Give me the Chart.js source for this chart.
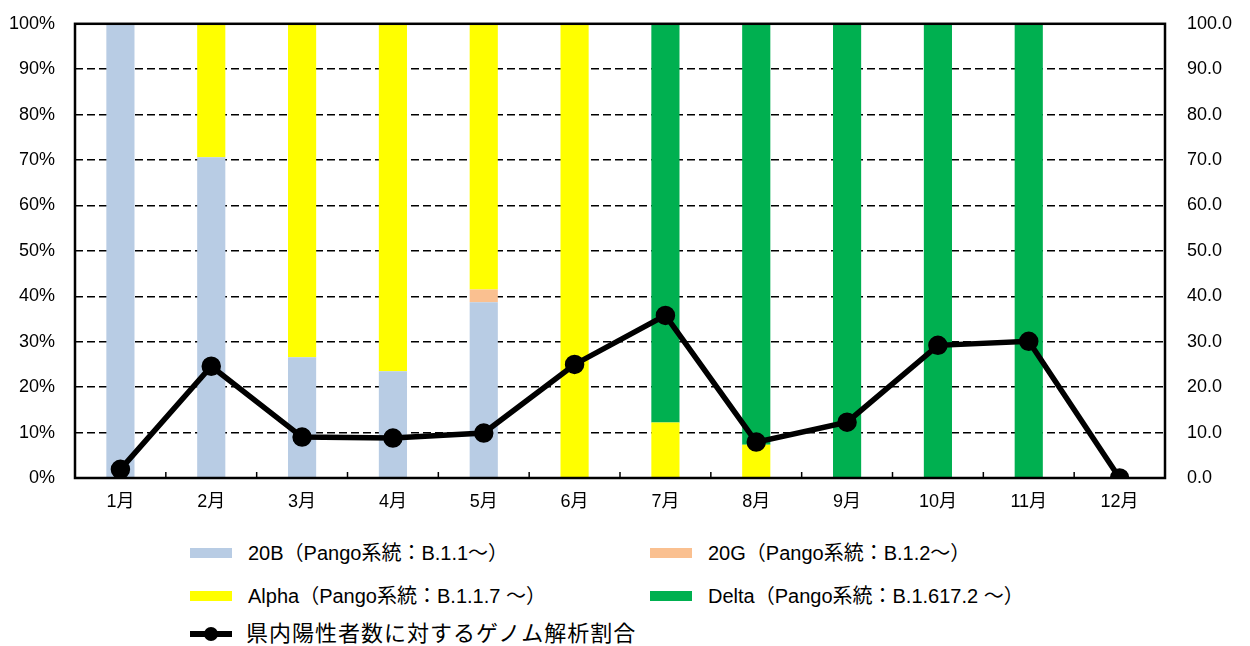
<!DOCTYPE html>
<html>
<head>
<meta charset="utf-8">
<script src="https://cdn.jsdelivr.net/npm/chart.js@4.4.1/dist/chart.umd.min.js"></script>
<style>
  body { margin: 0; background: #fff; width: 1250px; height: 646px; overflow: hidden; position: relative; }
  #wrap { position: absolute; left: 0; top: -9px; width: 1250px; height: 529px; }
  .leg { position: absolute; font-family: 'Liberation Sans', 'Noto Sans CJK JP', sans-serif; font-size: 20px; color: #000; white-space: nowrap; line-height: 24px; }
  .sw { position: absolute; width: 42px; height: 10px; }
  .txt { position: absolute; }
</style>
</head>
<body>
<div id="wrap"><canvas id="chart"></canvas></div>
<div id="legend"></div>
<script>
const months = ['1月','2月','3月','4月','5月','6月','7月','8月','9月','10月','11月','12月'];
const b20 = [100, 70.6, 26.6, 23.5, 38.7, 0, 0, 0, 0, 0, 0, 0];
const g20 = [0, 0, 0, 0, 2.8, 0, 0, 0, 0, 0, 0, 0];
const alpha = [0, 29.4, 73.4, 76.5, 58.5, 100, 12.2, 7.3, 0, 0, 0, 0];
const delta = [0, 0, 0, 0, 0, 0, 87.8, 92.7, 100, 100, 100, 0];
const ratio = [1.9, 24.6, 9.0, 8.8, 9.9, 25.0, 35.8, 7.9, 12.3, 29.2, 30.1, 0];

const seriesNames = [
  '20B（Pango系統：B.1.1～）',
  '20G（Pango系統：B.1.2～）',
  'Alpha（Pango系統：B.1.1.7 ～）',
  'Delta（Pango系統：B.1.617.2 ～）',
  '県内陽性者数に対するゲノム解析割合'
];
const colors = ['#B8CCE4', '#FAC090', '#FFFF00', '#00B050'];

const FONT = "'Liberation Sans', 'Noto Sans CJK JP', sans-serif";

// small inward tick marks on the x axis, between categories
const innerTicks = {
  id: 'innerTicks',
  afterDraw(chart) {
    const x = chart.scales.x, area = chart.chartArea, c = chart.ctx;
    c.save();
    c.strokeStyle = '#000';
    c.lineWidth = 1.5;
    for (let i = 0; i < months.length - 1; i++) {
      const px = (x.getPixelForValue(i) + x.getPixelForValue(i + 1)) / 2;
      c.beginPath();
      c.moveTo(px, area.bottom);
      c.lineTo(px, area.bottom - 6);
      c.stroke();
    }
    c.lineWidth = 2.5;
    c.strokeRect(area.left, area.top, area.right - area.left, area.bottom - area.top);
    c.restore();
  }
};

const barSet = (i, data) => ({
  type: 'bar', label: seriesNames[i], data: data, backgroundColor: colors[i],
  borderWidth: 0, yAxisID: 'y', stack: 's', order: 2,
  barPercentage: 0.31, categoryPercentage: 1
});

new Chart(document.getElementById('chart'), {
  data: {
    labels: months,
    datasets: [
      barSet(0, b20), barSet(1, g20), barSet(2, alpha), barSet(3, delta),
      {
        type: 'line', label: seriesNames[4], data: ratio, yAxisID: 'y2', order: 1,
        borderColor: '#000', backgroundColor: '#000', borderWidth: 5.5,
        pointRadius: 7, pointHoverRadius: 7, pointBackgroundColor: '#000', tension: 0
      }
    ]
  },
  options: {
    responsive: true,
    maintainAspectRatio: false,
    animation: false,
    layout: { padding: { top: 15, left: 0, right: 0, bottom: 0 } },
    plugins: { legend: { display: false }, tooltip: { enabled: false } },
    scales: {
      x: {
        stacked: true,
        grid: { display: false },
        border: { display: false },
        ticks: { color: '#000', font: { family: FONT, size: 18 }, padding: 5 },
        afterFit: (s) => { s.height = 42; }
      },
      y: {
        stacked: true, min: 0, max: 100, position: 'left',
        ticks: { stepSize: 10, color: '#000', font: { family: FONT, size: 18 }, padding: 20,
                 callback: (v) => v + '%' },
        grid: { color: '#000', lineWidth: 1.5, drawTicks: false },
        border: { display: false, dash: [8, 4] },
        afterFit: (s) => { s.width = 75; }
      },
      y2: {
        min: 0, max: 100, position: 'right',
        ticks: { stepSize: 10, color: '#000', font: { family: FONT, size: 18 }, padding: 22,
                 callback: (v) => v.toFixed(1) },
        grid: { display: false, drawTicks: false },
        border: { display: false },
        afterFit: (s) => { s.width = 85; }
      }
    }
  },
  plugins: [innerTicks]
});

// legend below the chart
const leg = document.getElementById('legend');
const rows = [
  { i: 0, x: 190, y: 553 }, { i: 1, x: 650, y: 553 },
  { i: 2, x: 190, y: 596 }, { i: 3, x: 650, y: 596 },
  { i: 4, x: 190, y: 634 }
];
rows.forEach(r => {
  const d = document.createElement('div');
  d.className = 'leg';
  d.style.left = r.x + 'px';
  d.style.top = (r.y - 12) + 'px';
  if (r.i < 4) {
    d.innerHTML = '<div class="sw" style="left:0;top:7px;background:' + colors[r.i] + '"></div>';
  } else {
    d.innerHTML = '<div class="sw" style="left:0;top:9px;height:6px;background:#000"></div>' +
      '<div style="position:absolute;left:14px;top:5px;width:14px;height:14px;border-radius:50%;background:#000"></div>';
  }
  const t = document.createElement('div');
  t.className = 'txt';
  t.style.left = (r.i < 4 ? 58 : 56) + 'px';
  t.style.top = '0px';
  if (r.i === 4) { t.style.fontSize = '22px'; t.style.letterSpacing = '1px'; }
  t.textContent = seriesNames[r.i];
  d.appendChild(t);
  leg.appendChild(d);
});
</script>
</body>
</html>
